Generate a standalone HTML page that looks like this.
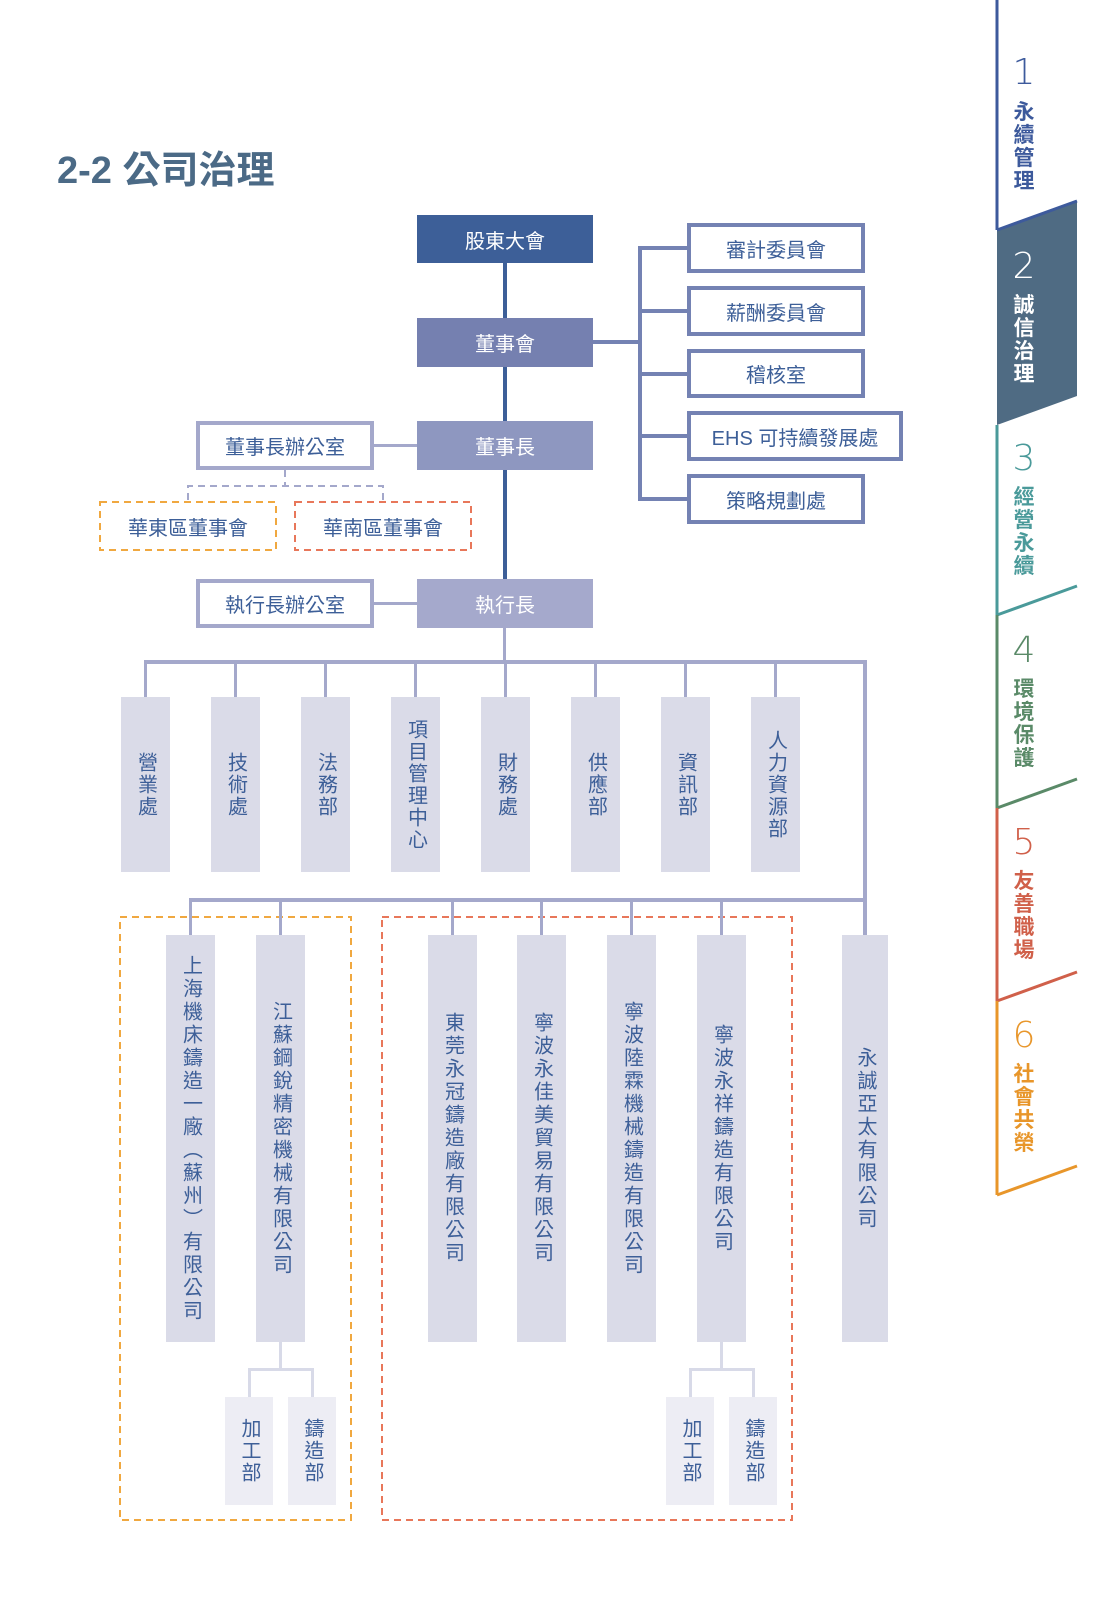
<!DOCTYPE html>
<html><head><meta charset="utf-8">
<style>
*{margin:0;padding:0;box-sizing:border-box}
body{width:1099px;height:1600px;background:#fff;position:relative;overflow:hidden;font-family:"Liberation Sans","Noto Sans CJK TC",sans-serif}
.a{position:absolute}
.box{position:absolute;display:flex;align-items:center;justify-content:center;font-size:20px;color:#3d5f98}
.v{writing-mode:vertical-rl;text-orientation:upright;letter-spacing:2px;font-size:20px;color:#3d5f98;line-height:1}
.ln{position:absolute;background:#a4a8cb}
.tab{position:absolute;left:1012px;width:24px;text-align:center;font-size:21px;line-height:23px;font-weight:bold}
.num{position:absolute;left:1010px;width:28px;text-align:center;font-size:36px;font-weight:200;font-family:"DejaVu Sans","Liberation Sans",sans-serif}
</style></head><body>
<svg class="a" style="left:0;top:0" width="1099" height="1600">
<polygon points="997,230 1077,201 1077,396 997,425" fill="#4f6b83"/>
<line x1="997" y1="0" x2="997" y2="230" stroke="#3d5a9c" stroke-width="3"/>
<line x1="997" y1="230" x2="1077" y2="201" stroke="#3d5a9c" stroke-width="3"/>
<line x1="997" y1="425" x2="997" y2="615" stroke="#4a9a9a" stroke-width="3"/>
<line x1="997" y1="615" x2="1077" y2="586" stroke="#4a9a9a" stroke-width="3"/>
<line x1="997" y1="615" x2="997" y2="808" stroke="#5a8a68" stroke-width="3"/>
<line x1="997" y1="808" x2="1077" y2="779" stroke="#5a8a68" stroke-width="3"/>
<line x1="997" y1="808" x2="997" y2="1001" stroke="#d0604a" stroke-width="3"/>
<line x1="997" y1="1001" x2="1077" y2="972" stroke="#d0604a" stroke-width="3"/>
<line x1="997" y1="1001" x2="997" y2="1195" stroke="#e8962a" stroke-width="3"/>
<line x1="997" y1="1195" x2="1077" y2="1166" stroke="#e8962a" stroke-width="3"/>
</svg>
<div class="num" style="top:52px;color:#3d5a9c">1</div>
<div class="tab" style="top:101px;color:#3d5a9c">永<br>續<br>管<br>理</div>
<div class="num" style="top:246px;color:#fff">2</div>
<div class="tab" style="top:294px;color:#fff">誠<br>信<br>治<br>理</div>
<div class="num" style="top:438px;color:#4a9a9a">3</div>
<div class="tab" style="top:486px;color:#4a9a9a">經<br>營<br>永<br>續</div>
<div class="num" style="top:630px;color:#5a8a68">4</div>
<div class="tab" style="top:678px;color:#5a8a68">環<br>境<br>保<br>護</div>
<div class="num" style="top:822px;color:#d0604a">5</div>
<div class="tab" style="top:870px;color:#d0604a">友<br>善<br>職<br>場</div>
<div class="num" style="top:1015px;color:#e8962a">6</div>
<div class="tab" style="top:1063px;color:#e8962a">社<br>會<br>共<br>榮</div>

<div class="a" style="left:57px;top:139px;font-size:38px;font-weight:bold;color:#4b6a86;font-family:'Liberation Sans','Noto Sans CJK TC',sans-serif">2-2 公司治理</div>

<div class="a" style="left:503px;top:263px;width:4px;height:317px;background:#3d5f98"></div>
<div class="ln" style="left:593px;top:340px;width:48px;height:4px;background:#7482b3"></div>
<div class="ln" style="left:638px;top:246px;width:4px;height:255px;background:#7482b3"></div>
<div class="ln" style="left:638px;top:246px;width:50px;height:4px;background:#7482b3"></div>
<div class="ln" style="left:638px;top:309px;width:50px;height:4px;background:#7482b3"></div>
<div class="ln" style="left:638px;top:372px;width:50px;height:4px;background:#7482b3"></div>
<div class="ln" style="left:638px;top:434px;width:50px;height:4px;background:#7482b3"></div>
<div class="ln" style="left:638px;top:497px;width:50px;height:4px;background:#7482b3"></div>
<div class="ln" style="left:374px;top:444px;width:43px;height:3px"></div>
<div class="ln" style="left:374px;top:602px;width:43px;height:3px"></div>
<svg class="a" style="left:0;top:0" width="990" height="1600">
<path d="M285,470 V486 M188,500 V486 H383 V500" stroke="#a4a8cb" stroke-width="2" fill="none" stroke-dasharray="7,5"/>
<rect x="100" y="502" width="176" height="48" fill="none" stroke="#f0a840" stroke-width="2" stroke-dasharray="7,5"/>
<rect x="295" y="502" width="176" height="48" fill="none" stroke="#e8775a" stroke-width="2" stroke-dasharray="7,5"/>
<rect x="120" y="917" width="231" height="603" fill="none" stroke="#f0a840" stroke-width="2" stroke-dasharray="7,5"/>
<rect x="382" y="917" width="410" height="603" fill="none" stroke="#e8775a" stroke-width="2" stroke-dasharray="7,5"/>
</svg>
<div class="ln" style="left:503px;top:628px;width:3px;height:34px"></div>
<div class="ln" style="left:144px;top:660px;width:723px;height:4px"></div>
<div class="ln" style="left:863px;top:660px;width:4px;height:276px"></div>
<div class="ln" style="left:144px;top:662px;width:3px;height:35px"></div>
<div class="ln" style="left:234px;top:662px;width:3px;height:35px"></div>
<div class="ln" style="left:324px;top:662px;width:3px;height:35px"></div>
<div class="ln" style="left:414px;top:662px;width:3px;height:35px"></div>
<div class="ln" style="left:504px;top:662px;width:3px;height:35px"></div>
<div class="ln" style="left:594px;top:662px;width:3px;height:35px"></div>
<div class="ln" style="left:684px;top:662px;width:3px;height:35px"></div>
<div class="ln" style="left:774px;top:662px;width:3px;height:35px"></div>
<div class="ln" style="left:189px;top:898px;width:676px;height:4px"></div>
<div class="ln" style="left:189px;top:900px;width:3px;height:35px"></div>
<div class="ln" style="left:279px;top:900px;width:3px;height:35px"></div>
<div class="ln" style="left:451px;top:900px;width:3px;height:35px"></div>
<div class="ln" style="left:540px;top:900px;width:3px;height:35px"></div>
<div class="ln" style="left:630px;top:900px;width:3px;height:35px"></div>
<div class="ln" style="left:720px;top:900px;width:3px;height:35px"></div>
<div class="ln" style="left:279px;top:1342px;width:3px;height:28px;background:#d8dae8"></div>
<div class="ln" style="left:248px;top:1368px;width:66px;height:3px;background:#d8dae8"></div>
<div class="ln" style="left:248px;top:1368px;width:3px;height:30px;background:#d8dae8"></div>
<div class="ln" style="left:311px;top:1368px;width:3px;height:30px;background:#d8dae8"></div>
<div class="ln" style="left:720px;top:1342px;width:3px;height:28px;background:#d8dae8"></div>
<div class="ln" style="left:689px;top:1368px;width:66px;height:3px;background:#d8dae8"></div>
<div class="ln" style="left:689px;top:1368px;width:3px;height:30px;background:#d8dae8"></div>
<div class="ln" style="left:752px;top:1368px;width:3px;height:30px;background:#d8dae8"></div>

<div class="box" style="left:417px;top:215px;width:176px;height:48px;background:#3d5f98;color:#fff">股東大會</div>
<div class="box" style="left:417px;top:318px;width:176px;height:49px;background:#7580b0;color:#fff">董事會</div>
<div class="box" style="left:417px;top:421px;width:176px;height:49px;background:#8e97c0;color:#fff">董事長</div>
<div class="box" style="left:417px;top:579px;width:176px;height:49px;background:#a5a9cc;color:#fff">執行長</div>
<div class="box" style="left:196px;top:421px;width:178px;height:49px;border:4px solid #a4a8cb">董事長辦公室</div>
<div class="box" style="left:196px;top:579px;width:178px;height:49px;border:4px solid #a4a8cb">執行長辦公室</div>
<div class="box" style="left:100px;top:502px;width:176px;height:48px">華東區董事會</div>
<div class="box" style="left:295px;top:502px;width:176px;height:48px">華南區董事會</div>
<div class="box" style="left:687px;top:223px;width:178px;height:50px;border:4px solid #7482b3">審計委員會</div>
<div class="box" style="left:687px;top:286px;width:178px;height:50px;border:4px solid #7482b3">薪酬委員會</div>
<div class="box" style="left:687px;top:349px;width:178px;height:49px;border:4px solid #7482b3">稽核室</div>
<div class="box" style="left:687px;top:411px;width:216px;height:50px;border:4px solid #7482b3">EHS 可持續發展處</div>
<div class="box" style="left:687px;top:474px;width:178px;height:50px;border:4px solid #7482b3">策略規劃處</div>

<div class="box" style="left:121px;top:697px;width:49px;height:175px;background:#dadbe8"><span class="v">營業處</span></div>
<div class="box" style="left:211px;top:697px;width:49px;height:175px;background:#dadbe8"><span class="v">技術處</span></div>
<div class="box" style="left:301px;top:697px;width:49px;height:175px;background:#dadbe8"><span class="v">法務部</span></div>
<div class="box" style="left:391px;top:697px;width:49px;height:175px;background:#dadbe8"><span class="v">項目管理中心</span></div>
<div class="box" style="left:481px;top:697px;width:49px;height:175px;background:#dadbe8"><span class="v">財務處</span></div>
<div class="box" style="left:571px;top:697px;width:49px;height:175px;background:#dadbe8"><span class="v">供應部</span></div>
<div class="box" style="left:661px;top:697px;width:49px;height:175px;background:#dadbe8"><span class="v">資訊部</span></div>
<div class="box" style="left:751px;top:697px;width:49px;height:175px;background:#dadbe8"><span class="v">人力資源部</span></div>

<div class="box" style="left:166px;top:935px;width:49px;height:407px;background:#dadbe8"><span class="v" style="letter-spacing:3px">上海機床鑄造一廠（蘇州）有限公司</span></div>
<div class="box" style="left:256px;top:935px;width:49px;height:407px;background:#dadbe8"><span class="v" style="letter-spacing:3px">江蘇鋼銳精密機械有限公司</span></div>
<div class="box" style="left:428px;top:935px;width:49px;height:407px;background:#dadbe8"><span class="v" style="letter-spacing:3px">東莞永冠鑄造廠有限公司</span></div>
<div class="box" style="left:517px;top:935px;width:49px;height:407px;background:#dadbe8"><span class="v" style="letter-spacing:3px">寧波永佳美貿易有限公司</span></div>
<div class="box" style="left:607px;top:935px;width:49px;height:407px;background:#dadbe8"><span class="v" style="letter-spacing:3px">寧波陸霖機械鑄造有限公司</span></div>
<div class="box" style="left:697px;top:935px;width:49px;height:407px;background:#dadbe8"><span class="v" style="letter-spacing:3px">寧波永祥鑄造有限公司</span></div>
<div class="box" style="left:842px;top:935px;width:46px;height:407px;background:#dadbe8"><span class="v" style="letter-spacing:3px">永誠亞太有限公司</span></div>

<div class="box" style="left:225px;top:1397px;width:48px;height:108px;background:#ededf4"><span class="v">加工部</span></div>
<div class="box" style="left:288px;top:1397px;width:48px;height:108px;background:#ededf4"><span class="v">鑄造部</span></div>
<div class="box" style="left:666px;top:1397px;width:48px;height:108px;background:#ededf4"><span class="v">加工部</span></div>
<div class="box" style="left:729px;top:1397px;width:48px;height:108px;background:#ededf4"><span class="v">鑄造部</span></div>
</body></html>
